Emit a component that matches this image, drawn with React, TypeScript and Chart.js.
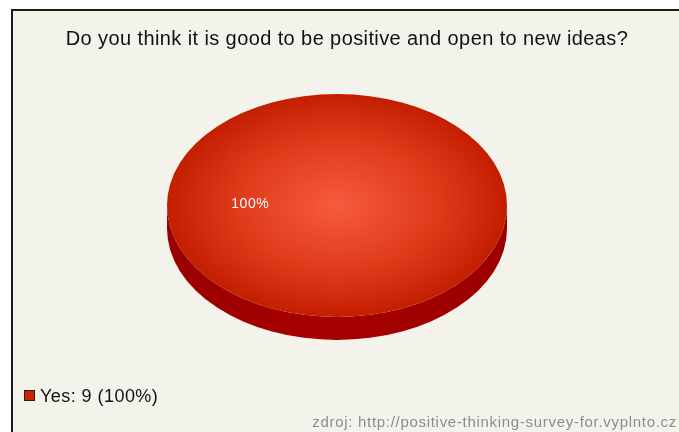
import { useEffect, useRef } from "react";
import { Chart, registerables } from "chart.js";

Chart.register(...registerables);

const categories = ["Yes"];
const values = [9];
const percentLabels = ["100%"];
const titleText = "Do you think it is good to be positive and open to new ideas?";
const sourceText = "zdroj: http://positive-thinking-survey-for.vyplnto.cz";

const W = 679;
const H = 432;
const TILT = 111.5 / 170;
const DEPTH = 23;
const FONT = '"Liberation Sans", Arial, Helvetica, sans-serif';

const framePlugin = {
  id: "frame",
  beforeDraw(chart: any) {
    const ctx = chart.ctx;
    ctx.save();
    ctx.fillStyle = "#ffffff";
    ctx.fillRect(0, 0, W, H);
    ctx.fillStyle = "#f4f3eb";
    ctx.fillRect(11, 9, W - 11, H - 9);
    ctx.fillStyle = "#1a1a1a";
    ctx.fillRect(11, 9, W - 11, 2);
    ctx.fillRect(11, 9, 2, H - 9);
    ctx.restore();
  },
};

const pie3dPlugin = {
  id: "pie3d",
  beforeDatasetsDraw(chart: any) {
    const ctx = chart.ctx;
    const arc = chart.getDatasetMeta(0).data[0];
    if (!arc) return;
    const { x, y, outerRadius: r } = arc.getProps(["x", "y", "outerRadius"], true);
    const ry = r * TILT;
    ctx.save();
    // side wall
    const g = ctx.createLinearGradient(x - r, 0, x + r, 0);
    g.addColorStop(0, "#9a0000");
    g.addColorStop(0.5, "#a80000");
    g.addColorStop(1, "#9a0000");
    ctx.beginPath();
    ctx.ellipse(x, y + DEPTH, r, ry, 0, 0, Math.PI, false);
    ctx.lineTo(x - r, y);
    ctx.ellipse(x, y, r, ry, 0, Math.PI, 0, true);
    ctx.closePath();
    ctx.fillStyle = g;
    ctx.fill();
    // tilt the top face
    ctx.translate(x, y);
    ctx.scale(1, TILT);
    ctx.translate(-x, -y);
  },
  afterDatasetsDraw(chart: any) {
    const ctx = chart.ctx;
    ctx.restore();
    const arc = chart.getDatasetMeta(0).data[0];
    if (!arc) return;
    const { x, y, outerRadius: r } = arc.getProps(["x", "y", "outerRadius"], true);
    ctx.save();
    ctx.fillStyle = "#ffffff";
    ctx.font = `14px ${FONT}`;
    (ctx as any).letterSpacing = "0.6px";
    ctx.textAlign = "center";
    ctx.textBaseline = "alphabetic";
    ctx.fillText(percentLabels[0], x - 0.51 * r, y + 2);
    ctx.restore();
  },
};

const textPlugin = {
  id: "texts",
  afterDraw(chart: any) {
    const ctx = chart.ctx;
    ctx.save();
    ctx.textBaseline = "alphabetic";
    // title
    ctx.fillStyle = "#111111";
    ctx.font = `20px ${FONT}`;
    (ctx as any).letterSpacing = "0.4px";
    ctx.textAlign = "center";
    ctx.fillText(titleText, 347, 45);
    // legend
    const ds = chart.data.datasets[0];
    const total = ds.data.reduce((a: number, b: number) => a + b, 0);
    chart.data.labels.forEach((lab: string, i: number) => {
      const v = ds.data[i];
      const pct = Math.round((v / total) * 100);
      ctx.fillStyle = "#cc2200";
      ctx.fillRect(24, 390, 11, 11);
      ctx.strokeStyle = "#222222";
      ctx.lineWidth = 1;
      ctx.strokeRect(24.5, 390.5, 10, 10);
      ctx.fillStyle = "#111111";
      ctx.font = `18px ${FONT}`;
      (ctx as any).letterSpacing = "0.45px";
      ctx.textAlign = "left";
      ctx.fillText(`${lab}: ${v} (${pct}%)`, 40, 402);
    });
    // source
    ctx.fillStyle = "#8c8c8c";
    ctx.font = `15px ${FONT}`;
    (ctx as any).letterSpacing = "0.7px";
    ctx.textAlign = "right";
    ctx.fillText(sourceText, 677, 427);
    ctx.restore();
  },
};

export default function App() {
  const ref = useRef<HTMLCanvasElement | null>(null);
  useEffect(() => {
    document.body.style.margin = "0";
    const canvas = ref.current!;
    const chart = new Chart(canvas, {
      type: "pie",
      data: {
        labels: categories,
        datasets: [
          {
            data: values,
            borderWidth: 0,
            clip: false as any,
            backgroundColor: (c: any) => {
              const area = c.chart.chartArea;
              if (!area) return "#dd3311";
              const cx = (area.left + area.right) / 2;
              const cy = (area.top + area.bottom) / 2;
              const r = Math.min(area.width, area.height) / 2;
              const g = c.chart.ctx.createRadialGradient(cx, cy, 0, cx, cy, r);
              g.addColorStop(0, "#f65b3d");
              g.addColorStop(0.6, "#de3a1a");
              g.addColorStop(1, "#c41e00");
              return g;
            },
          },
        ],
      },
      options: {
        responsive: false,
        animation: false,
        events: [],
        layout: { padding: { left: 167, right: 172, top: 35.5, bottom: 56.5 } },
        plugins: {
          legend: { display: false },
          title: { display: false },
          tooltip: { enabled: false },
        },
      },
      plugins: [framePlugin, pie3dPlugin, textPlugin],
    });
    return () => chart.destroy();
  }, []);
  return (
    <div style={{ position: "fixed", left: 0, top: 0, width: W, height: H }}>
      <canvas ref={ref} width={W} height={H} style={{ width: W, height: H, display: "block" }} />
    </div>
  );
}
